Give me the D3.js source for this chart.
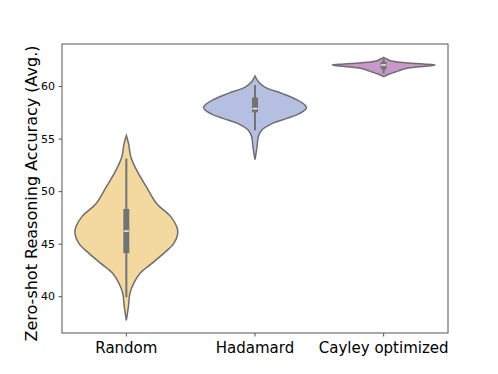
<!DOCTYPE html>
<html lang="en">
<head>
    <meta charset="UTF-8">
    <title>Violin plot</title>
    <script src="https://d3js.org/d3.v7.min.js"></script>
    <style>
        body{ margin:0; background:#fff; }
        text{ font-family: "DejaVu Sans", sans-serif; fill:#000; }
        .violin{ stroke:#6e6e6e; stroke-width:1.5; }
    </style>
</head>
<body>
<svg width="498" height="374"></svg>
<script>
    // categories
    const methods = ["Random", "Hadamard", "Cayley optimized"]
    const colors = ["#f3d99f", "#b4bfe2", "#c998cb"]

    // violin outlines: value -> relative density (0..1)
    const randomVals = [55.3, 54.5, 53.3, 52.0, 50.4, 48.8, 47.6, 46.6, 46.0, 45.0, 44.1, 43.1, 42.2, 41.2, 40.3, 39.0, 37.7]
    const randomDens = [0, .045, .085, .20, .39, .59, .86, .98, 1.0, .92, .73, .49, .27, .14, .07, .04, 0]
    const hadamardVals = [60.95, 60.4, 59.9, 59.3, 58.7, 58.2, 57.9, 57.4, 56.9, 56.4, 55.8, 55.2, 54.2, 53.0]
    const hadamardDens = [0, .065, .19, .52, .81, .97, 1.0, .87, .61, .32, .13, .065, .04, 0]
    const cayleyVals = [62.73, 62.57, 62.38, 62.24, 62.1, 62.0, 61.9, 61.71, 61.52, 61.33, 61.14, 60.89]
    const cayleyDens = [0, .06, .15, .38, .77, 1.0, .86, .48, .33, .23, .11, 0]

    // inner box: whisker low, q1, median, q3, whisker high
    const randomBox = [39.9, 44.1, 46.2, 48.3, 53.1]
    const hadamardBox = [55.8, 57.5, 57.85, 58.9, 60.1]
    const cayleyBox = [61.2, 61.6, 62.0, 62.3, 62.6]

    const yTicks = [40, 45, 50, 55, 60]

    const violins = [
        {name: methods[0], vals: randomVals, dens: randomDens, box: randomBox},
        {name: methods[1], vals: hadamardVals, dens: hadamardDens, box: hadamardBox},
        {name: methods[2], vals: cayleyVals, dens: cayleyDens, box: cayleyBox}
    ]

    let svg = d3.select('svg')
    let plotLeft = 62, plotRight = 448, plotTop = 44, plotBottom = 333

    let x = d3.scaleBand().domain(methods).range([plotLeft, plotRight]).padding(0)
    let y = d3.scaleLinear().domain([36.5, 64]).range([plotBottom, plotTop])
    let halfMax = x.bandwidth() * 0.4

    // violins
    violins.forEach((v, i) => {
        let cx = x(v.name) + x.bandwidth() / 2
        let pts = v.vals.map((val, j) => [val, v.dens[j]])
        let area = d3.area()
            .y(d => y(d[0]))
            .x0(d => cx - d[1] * halfMax)
            .x1(d => cx + d[1] * halfMax)
            .curve(d3.curveCatmullRom.alpha(0.5))
        svg.append("path")
            .attr("class", "violin")
            .attr("d", area(pts))
            .attr("fill", colors[i])

        // whisker
        svg.append("line")
            .attr("x1", cx).attr("x2", cx)
            .attr("y1", y(v.box[0])).attr("y2", y(v.box[4]))
            .attr("stroke", "#737373").attr("stroke-width", 2)
        // box
        svg.append("rect")
            .attr("x", cx - 3).attr("width", 6)
            .attr("y", y(v.box[3])).attr("height", y(v.box[1]) - y(v.box[3]))
            .attr("fill", "#737373")
        // median
        svg.append("line")
            .attr("x1", cx - 2.5).attr("x2", cx + 2.5)
            .attr("y1", y(v.box[2])).attr("y2", y(v.box[2]))
            .attr("stroke", "#f0f0f0").attr("stroke-width", 1.5)
    })

    // frame
    svg.append("rect")
        .attr("x", plotLeft).attr("y", plotTop)
        .attr("width", plotRight - plotLeft).attr("height", plotBottom - plotTop)
        .attr("fill", "none").attr("stroke", "#555").attr("stroke-width", 1)

    // y axis
    let yAxis = svg.append("g")
        .attr("transform", `translate(${plotLeft},0)`)
        .call(d3.axisLeft(y).tickValues(yTicks).tickSize(3.5).tickPadding(3.5))
    yAxis.select(".domain").remove()
    yAxis.selectAll("line").attr("stroke", "#555")
    yAxis.selectAll("text").style("font-size", "11px").style("font-family", "DejaVu Sans")

    // x axis
    let xAxis = svg.append("g")
        .attr("transform", `translate(0,${plotBottom})`)
        .call(d3.axisBottom(x).tickSize(3.5).tickPadding(6))
    xAxis.select(".domain").remove()
    xAxis.selectAll("line").attr("stroke", "#555")
    xAxis.selectAll("text").style("font-size", "15px").style("font-family", "DejaVu Sans")

    // y label
    svg.append("text")
        .attr("transform", `translate(37,${(plotTop + plotBottom) / 2 + 5}) rotate(-90)`)
        .attr("text-anchor", "middle")
        .style("font-size", "16px")
        .text("Zero-shot Reasoning Accuracy (Avg.)")
</script>
</body>
</html>
